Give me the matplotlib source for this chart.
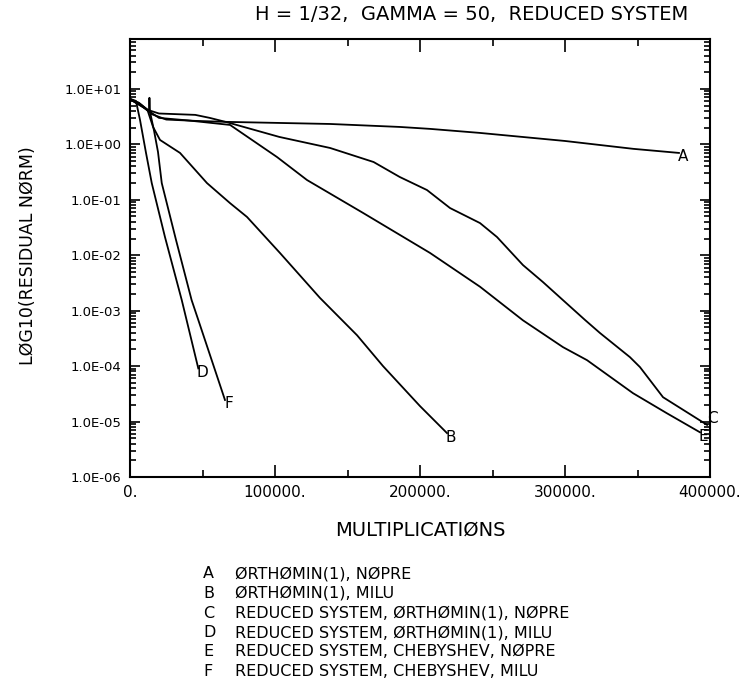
import numpy as np
import matplotlib
matplotlib.use('Agg')
import matplotlib.pyplot as plt
from matplotlib.ticker import FuncFormatter, LogLocator, MultipleLocator

# residual norm vs. multiplications, one curve per method
A_x = [0, 8000, 15000, 25000, 45000, 67000, 138000, 186000, 207000, 241000, 300000, 347000, 378600]
A_y = [6.5, 5.0, 3.5, 2.8, 2.65, 2.54, 2.33, 2.06, 1.90, 1.61, 1.15, 0.83, 0.70]

B_x = [0, 6000, 12000, 15900, 20700, 34500, 53100, 69000, 80700, 103400, 131000, 156600, 174500, 200000, 218600]
B_y = [6.5, 5.6, 4.2, 2.06, 1.2, 0.70, 0.20, 0.087, 0.049, 0.011, 1.7e-3, 3.6e-4, 1.0e-4, 1.9e-5, 6.2e-6]

C_x = [0, 5000, 12000, 20000, 45000, 55000, 67000, 103000, 138000, 168000, 186000, 204800,
       220700, 241400, 253100, 271000, 284800, 298600, 313800, 324100, 344800, 351700, 367600, 398000]
C_y = [6.5, 5.5, 4.2, 3.6, 3.4, 3.0, 2.5, 1.36, 0.86, 0.48, 0.258, 0.150,
       0.071, 0.038, 0.0213, 0.00665, 0.00328, 0.00155, 6.8e-4, 3.96e-4, 1.45e-4, 9.6e-5, 2.75e-5, 8.7e-6]

D_x = [0, 4100, 6900, 11000, 15000, 24100, 35700, 47100]
D_y = [6.6, 6.07, 2.76, 0.71, 0.20, 0.0214, 1.55e-3, 9.1e-5]

E_x = [0, 10000, 20000, 40000, 69000, 101400, 122100, 160700, 206900, 241400, 271000, 298600,
       315200, 346900, 370300, 393100]
E_y = [6.5, 4.5, 3.0, 2.7, 2.24, 0.59, 0.227, 0.058, 0.011, 0.0027, 6.7e-4, 2.2e-4,
       1.28e-4, 3.25e-5, 1.41e-5, 6.4e-6]

F_x = [0, 6200, 13100, 13400, 13800, 16600, 19300, 21900, 31700, 42500, 47100, 65500]
F_y = [6.6, 5.6, 4.0, 6.9, 3.85, 1.75, 0.73, 0.20, 0.019, 1.55e-3, 6.8e-4, 2.45e-5]

curves = [('A', A_x, A_y), ('B', B_x, B_y), ('C', C_x, C_y),
          ('D', D_x, D_y), ('E', E_x, E_y), ('F', F_x, F_y)]
# where each end letter sits relative to the last point (pixels)
label_offset = {'A': (4, -4), 'B': (4, -4), 'C': (5, 6),
                'D': (4, -4), 'E': (3, -4), 'F': (4, -4)}

legend_keys = ['A', 'B', 'C', 'D', 'E', 'F']
legend_text = ['ØRTHØMIN(1), NØPRE',
               'ØRTHØMIN(1), MILU',
               'REDUCED SYSTEM, ØRTHØMIN(1), NØPRE',
               'REDUCED SYSTEM, ØRTHØMIN(1), MILU',
               'REDUCED SYSTEM, CHEBYSHEV, NØPRE',
               'REDUCED SYSTEM, CHEBYSHEV, MILU']

W, H = 754, 693
fig = plt.figure(figsize=(W / 100, H / 100), dpi=100)
ax = fig.add_axes([130 / W, 1 - 477 / H, 580 / W, 438 / H])

for name, xs, ys in curves:
    ax.plot(xs, ys, color='black', lw=1.3)
    ax.annotate(name, (xs[-1], ys[-1]), xytext=label_offset[name], textcoords='offset pixels',
                ha='center', va='center', fontsize=11, annotation_clip=False)

ax.set_yscale('log')
ax.set_xlim(0, 400000)
ax.set_ylim(1e-6, 10 ** 1.9)

ax.xaxis.set_major_locator(MultipleLocator(100000))
ax.xaxis.set_minor_locator(MultipleLocator(50000))
ax.xaxis.set_major_formatter(FuncFormatter(lambda v, p: '%d.' % int(round(v))))
ax.yaxis.set_major_locator(LogLocator(base=10, numticks=20))
ax.yaxis.set_minor_locator(LogLocator(base=10, subs=np.arange(2, 10), numticks=20))
ax.yaxis.set_major_formatter(FuncFormatter(lambda v, p: '%.1E' % v))

ax.tick_params(which='both', direction='in', top=True, right=True, width=1.2)
ax.tick_params(axis='x', which='major', length=9, pad=6, labelsize=11)
ax.tick_params(axis='x', which='minor', length=5)
ax.tick_params(axis='y', which='major', length=7, pad=6, labelsize=9.5)
ax.tick_params(axis='y', which='minor', length=4)
for s in ax.spines.values():
    s.set_linewidth(1.5)

fig.text(472 / W, 1 - 15 / H, 'H = 1/32,  GAMMA = 50,  REDUCED SYSTEM',
         ha='center', va='center', fontsize=14)
fig.text(420 / W, 1 - 530 / H, 'MULTIPLICATIØNS', ha='center', va='center', fontsize=14)
fig.text(28 / W, 1 - 256 / H, 'LØG10(RESIDUAL NØRM)', ha='center', va='center',
         rotation=90, fontsize=12.5)

for i, (k, t) in enumerate(zip(legend_keys, legend_text)):
    yy = 1 - (574 + 19.5 * i) / H
    fig.text(203 / W, yy, k, ha='left', va='center', fontsize=11.5)
    fig.text(235 / W, yy, t, ha='left', va='center', fontsize=11.5)

fig.savefig('out.png', dpi=100)
